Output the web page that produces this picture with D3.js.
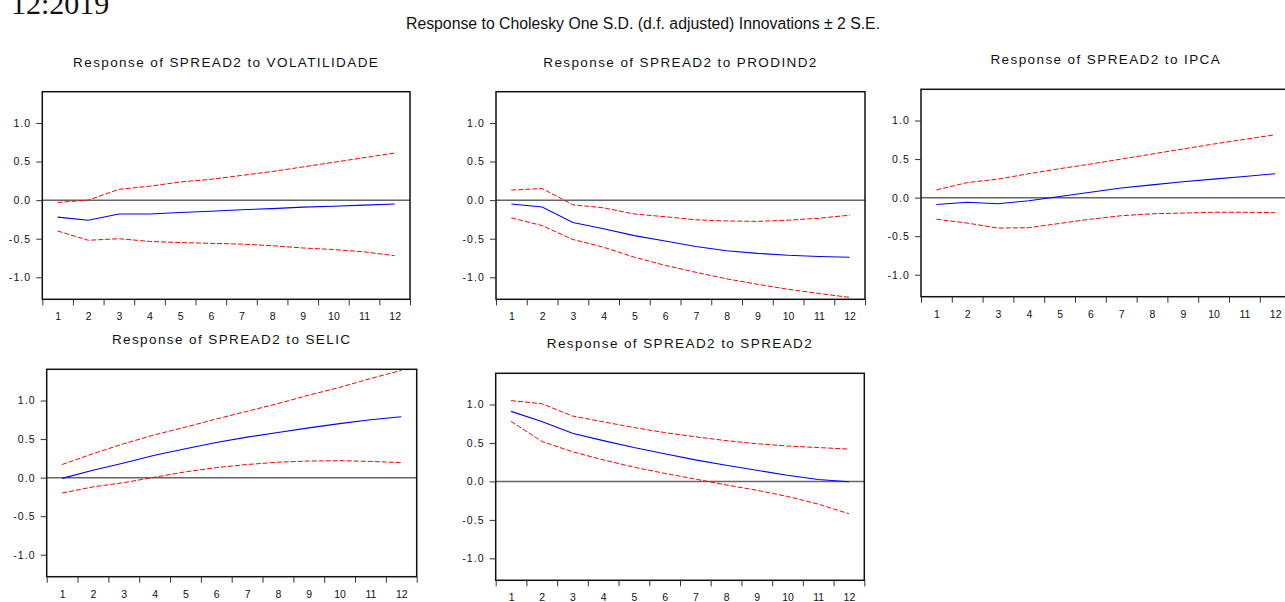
<!DOCTYPE html>
<html>
<head>
<meta charset="utf-8">
<script src="https://cdn.jsdelivr.net/npm/d3@7/dist/d3.min.js"></script>
<style>
  html, body { margin: 0; padding: 0; background: #fff; }
  svg { display: block; }
  text { font-family: Arial, "Liberation Sans", sans-serif; fill: #111; }
</style>
</head>
<body>
<svg id="chart" width="1285" height="602"></svg>
<script>
// ---- data ----
const steps = [1, 2, 3, 4, 5, 6, 7, 8, 9, 10, 11, 12];
const yTickValues = [-1.0, -0.5, 0.0, 0.5, 1.0];
const cornerLabel = "12:2019";
const mainTitle = "Response to Cholesky One S.D. (d.f. adjusted) Innovations \u00B1 2 S.E.";
const panelTitles = [
  "Response of SPREAD2 to VOLATILIDADE",
  "Response of SPREAD2 to PRODIND2",
  "Response of SPREAD2 to IPCA",
  "Response of SPREAD2 to SELIC",
  "Response of SPREAD2 to SPREAD2"
];

const volResp  = [-0.22, -0.26, -0.18, -0.18, -0.16, -0.145, -0.125, -0.11, -0.09, -0.08, -0.065, -0.05];
const volUpper = [-0.03, 0.00, 0.14, 0.18, 0.235, 0.27, 0.32, 0.37, 0.43, 0.49, 0.55, 0.61];
const volLower = [-0.40, -0.52, -0.50, -0.535, -0.55, -0.56, -0.57, -0.59, -0.62, -0.64, -0.67, -0.72];

const prodResp  = [-0.05, -0.09, -0.29, -0.37, -0.46, -0.53, -0.60, -0.655, -0.69, -0.715, -0.73, -0.74];
const prodUpper = [0.13, 0.15, -0.06, -0.10, -0.18, -0.215, -0.255, -0.27, -0.275, -0.26, -0.235, -0.195];
const prodLower = [-0.23, -0.33, -0.51, -0.61, -0.74, -0.845, -0.935, -1.02, -1.09, -1.155, -1.21, -1.26];

const ipcaResp  = [-0.09, -0.06, -0.08, -0.04, 0.015, 0.07, 0.125, 0.165, 0.205, 0.24, 0.275, 0.31];
const ipcaUpper = [0.10, 0.195, 0.24, 0.31, 0.375, 0.435, 0.50, 0.565, 0.63, 0.695, 0.755, 0.815];
const ipcaLower = [-0.28, -0.33, -0.395, -0.39, -0.335, -0.28, -0.235, -0.21, -0.20, -0.19, -0.19, -0.195];

const selicResp  = [-0.01, 0.095, 0.19, 0.29, 0.375, 0.455, 0.525, 0.585, 0.645, 0.70, 0.75, 0.79];
const selicUpper = [0.17, 0.31, 0.44, 0.555, 0.655, 0.76, 0.86, 0.96, 1.07, 1.17, 1.285, 1.39];
const selicLower = [-0.20, -0.12, -0.065, 0.005, 0.075, 0.13, 0.17, 0.20, 0.215, 0.22, 0.21, 0.195];

const spreadResp  = [0.91, 0.78, 0.625, 0.53, 0.44, 0.36, 0.28, 0.21, 0.145, 0.08, 0.025, -0.005];
const spreadUpper = [1.05, 1.01, 0.85, 0.775, 0.70, 0.635, 0.58, 0.53, 0.49, 0.46, 0.44, 0.42];
const spreadLower = [0.78, 0.52, 0.385, 0.28, 0.185, 0.105, 0.03, -0.045, -0.115, -0.195, -0.295, -0.42];

const yDomain = [-1.285, 1.405];

// ---- layout ----
const panels = [
  { title: panelTitles[0], resp: volResp,    upper: volUpper,    lower: volLower,    l: 42.3, r: 410,    t: 91.7,  b: 299.3, ty: 62.7 },
  { title: panelTitles[1], resp: prodResp,   upper: prodUpper,   lower: prodLower,   l: 496,  r: 865,    t: 91.7,  b: 299.3, ty: 62.7 },
  { title: panelTitles[2], resp: ipcaResp,   upper: ipcaUpper,   lower: ipcaLower,   l: 921,  r: 1290.6, t: 89.3,  b: 296.7, ty: 59.3 },
  { title: panelTitles[3], resp: selicResp,  upper: selicUpper,  lower: selicLower,  l: 46.7, r: 416.7,  t: 369.3, b: 576.7, ty: 339.3 },
  { title: panelTitles[4], resp: spreadResp, upper: spreadUpper, lower: spreadLower, l: 495.7, r: 864.3, t: 373.3, b: 580.3, ty: 343.3 }
];

const svg = d3.select("#chart");

svg.append("text")
  .attr("x", 11).attr("y", 14)
  .style("font-family", "'Times New Roman', 'Liberation Serif', serif")
  .style("font-size", "30px")
  .text(cornerLabel);

svg.append("text")
  .attr("x", 643).attr("y", 29)
  .attr("text-anchor", "middle")
  .style("font-size", "15.8px")
  .text(mainTitle);

panels.forEach(p => {
  const g = svg.append("g");
  const x = d3.scaleLinear().domain([0.5, 12.5]).range([p.l, p.r]);
  const y = d3.scaleLinear().domain(yDomain).range([p.b, p.t]);

  g.append("text")
    .attr("x", (p.l + p.r) / 2).attr("y", p.ty + 4.5)
    .attr("text-anchor", "middle")
    .style("font-size", "13.5px")
    .style("letter-spacing", "1.4px")
    .text(p.title);

  // zero line
  g.append("line")
    .attr("x1", p.l).attr("x2", p.r)
    .attr("y1", y(0)).attr("y2", y(0))
    .attr("stroke", "#666").attr("stroke-width", 1.5);

  const line = d3.line().x((d, i) => x(steps[i])).y(d => y(d));

  g.append("path").datum(p.upper).attr("d", line)
    .attr("fill", "none").attr("stroke", "#ff0000").attr("stroke-width", 1)
    .attr("stroke-dasharray", "5,2");
  g.append("path").datum(p.lower).attr("d", line)
    .attr("fill", "none").attr("stroke", "#ff0000").attr("stroke-width", 1)
    .attr("stroke-dasharray", "5,2");
  g.append("path").datum(p.resp).attr("d", line)
    .attr("fill", "none").attr("stroke", "#0000ff").attr("stroke-width", 1.1);

  // border
  g.append("rect")
    .attr("x", p.l).attr("y", p.t)
    .attr("width", p.r - p.l).attr("height", p.b - p.t)
    .attr("fill", "none").attr("stroke", "#111").attr("stroke-width", 1.5);

  // y axis
  const ya = g.append("g").attr("transform", `translate(${p.l},0)`)
    .call(d3.axisLeft(y).tickValues(yTickValues).tickFormat(d => d.toFixed(1))
      .tickSize(6).tickSizeOuter(0).tickPadding(5));
  ya.select(".domain").remove();
  ya.selectAll("line").attr("stroke", "#333");
  ya.selectAll("text").style("font-size", "10.5px").style("letter-spacing", "1.1px")
    .style("font-family", "Arial, 'Liberation Sans', sans-serif");

  // x tick marks at band boundaries
  const xm = g.append("g").attr("transform", `translate(0,${p.b})`)
    .call(d3.axisBottom(x).tickValues(d3.range(0.5, 13, 1)).tickFormat("")
      .tickSize(6).tickSizeOuter(0));
  xm.select(".domain").remove();
  xm.selectAll("line").attr("stroke", "#333");

  // x labels at centers
  const xl = g.append("g").attr("transform", `translate(0,${p.b})`)
    .call(d3.axisBottom(x).tickValues(steps).tickFormat(d3.format("d"))
      .tickSize(0).tickPadding(13.5));
  xl.select(".domain").remove();
  xl.selectAll("text").style("font-size", "10.5px")
    .style("font-family", "Arial, 'Liberation Sans', sans-serif");
});
</script>
</body>
</html>
